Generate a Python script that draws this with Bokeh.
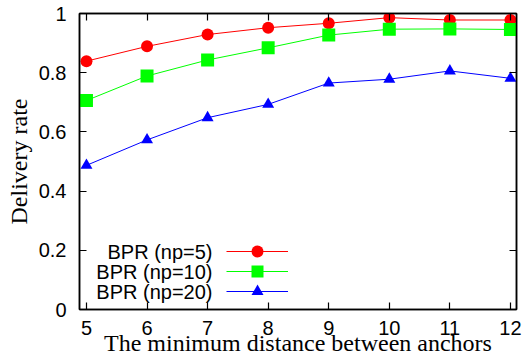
from bokeh.plotting import figure
from bokeh.models import (Range1d, FixedTicker, LinearAxis, CustomJSTickFormatter,
                          Legend, LegendItem, Label)
from bokeh.core.properties import value
from bokeh.embed import file_html
from bokeh.resources import INLINE

# Minimum distance between anchors (x axis)
distances = [5, 6, 7, 8, 9, 10, 11, 12]

# Delivery rate for each number of packets
rate_np5 = [0.839, 0.889, 0.929, 0.952, 0.967, 0.986, 0.978, 0.978]
rate_np10 = [0.706, 0.789, 0.843, 0.884, 0.927, 0.947, 0.948, 0.946]
rate_np20 = [0.487, 0.573, 0.648, 0.693, 0.765, 0.778, 0.806, 0.781]

series_names = ["BPR (np=5)", "BPR (np=10)", "BPR (np=20)"]
series_colors = ["#ff0000", "#00ff00", "#0000ff"]
series_markers = ["circle", "square", "triangle"]
series_sizes = [12, 13, 12]

x_ticks = [5, 6, 7, 8, 9, 10, 11, 12]
y_ticks = [0, 0.2, 0.4, 0.6, 0.8, 1.0]
x_title = "The minimum distance between anchors"
y_title = "Delivery rate"

SANS = "Liberation Sans"
SERIF = "Liberation Serif"

p = figure(width=526, height=362, output_backend="svg", toolbar_location=None,
           x_range=Range1d(4.885, 12.1), y_range=Range1d(0, 1),
           min_border_left=79, min_border_right=10, min_border_top=13,
           min_border_bottom=53, x_axis_label=x_title, y_axis_label=y_title)

p.background_fill_color = "white"
p.border_fill_color = "white"
p.outline_line_color = "black"
p.outline_line_width = 1.5
p.xgrid.visible = False
p.ygrid.visible = False

fmt = CustomJSTickFormatter(code="return String(Math.round(tick * 10) / 10);")
blank = CustomJSTickFormatter(code="return '';")


def style_axis(ax, ticks, show_labels=True):
    ax.ticker = FixedTicker(ticks=ticks)
    ax.minor_tick_line_color = None
    ax.major_tick_in = 7
    ax.major_tick_out = 0
    ax.major_tick_line_width = 1.2
    ax.axis_line_width = 1.5
    ax.axis_line_color = "black"
    ax.major_tick_line_color = "black"
    if show_labels:
        ax.formatter = fmt
        ax.major_label_text_font = SANS
        ax.major_label_text_font_size = "20px"
        ax.major_label_text_color = "black"
        ax.axis_label_text_font = SERIF
        ax.axis_label_text_font_size = "24px"
        ax.axis_label_text_font_style = "normal"
        ax.axis_label_text_color = "black"
    else:
        ax.formatter = blank
        ax.major_label_text_font_size = "1px"
        ax.major_label_standoff = 0


style_axis(p.xaxis[0], x_ticks)
style_axis(p.yaxis[0], y_ticks)
p.xaxis[0].major_label_standoff = 11
p.xaxis[0].axis_label_standoff = -8
p.yaxis[0].major_label_standoff = 13
p.yaxis[0].axis_label_standoff = 4

# mirrored ticks on the top and right sides of the frame
top_axis = LinearAxis()
style_axis(top_axis, x_ticks, show_labels=False)
p.add_layout(top_axis, "above")
right_axis = LinearAxis()
style_axis(right_axis, y_ticks, show_labels=False)
p.add_layout(right_axis, "right")

for i, (name, ys, color, marker, size) in enumerate(
        zip(series_names, [rate_np5, rate_np10, rate_np20],
            series_colors, series_markers, series_sizes)):
    ln = p.line(distances, ys, line_color=color, line_width=1)
    sc = p.scatter(distances, ys, marker=marker, size=size, fill_color=color,
                   line_color=color, line_width=0)

    # one key sample per legend box, stacked 20px apart
    row_y = 58 - 20 * i
    key = Legend(items=[LegendItem(label=value(""), renderers=[ln, sc])],
                 location=(147, row_y - 15), glyph_width=62, glyph_height=30,
                 label_height=20, label_width=0, label_standoff=0, spacing=0,
                 padding=0, margin=0, border_line_color=None,
                 background_fill_alpha=0, label_text_font_size="1px")
    p.add_layout(key, "center")

    # legend text sits to the left of its key sample
    p.add_layout(Label(x=133, y=row_y, x_units="screen", y_units="screen",
                       text=name, text_align="right", text_baseline="middle",
                       text_font=SANS, text_font_size="20px", text_color="black"))

open("out.html", "w").write(file_html(p, INLINE))
